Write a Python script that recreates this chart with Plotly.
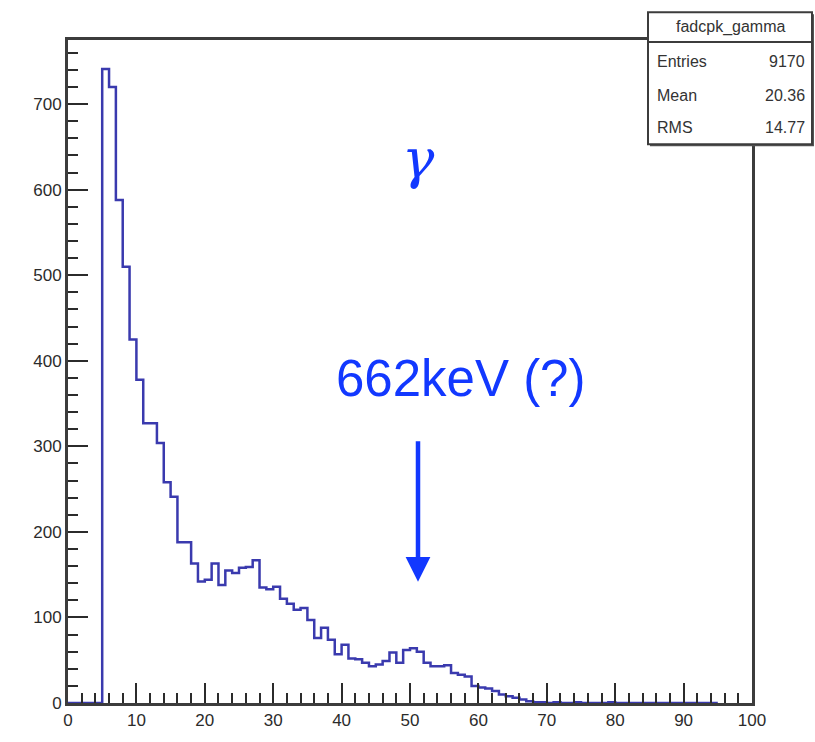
import plotly.graph_objects as go

# ---- data (1-unit bins from 0 to 100) ----
bin_low_edges = list(range(0, 100))
counts = [
    0, 0, 0, 0, 0,
    741, 720, 588, 510, 425, 378, 327, 327, 304, 258,
    241, 188, 188, 163, 142, 144, 163, 138, 155, 152,
    158, 159, 167, 135, 133, 136, 122, 116, 109, 111,
    97, 76, 88, 74, 57, 68, 52, 51, 47, 43,
    45, 49, 59, 47, 62, 64, 60, 47, 43, 43,
    44, 35, 33, 31, 20, 18, 17, 14, 10, 8,
    6, 4, 2, 1, 1, 0, 1, 0, 0, 1,
    0, 0, 0, 0, 1, 0, 0, 0, 0, 0,
    0, 0, 0, 0, 0, 0, 0, 0, 0, 0,
]
x_max = 100
x_ticks = list(range(0, 101, 10))
y_ticks = list(range(0, 701, 100))

stats_title = "fadcpk_gamma"
stats_rows = [("Entries", "9170"), ("Mean", "20.36"), ("RMS", "14.77")]

W, H = 815, 742
L, R, T, B = 68, 752, 40, 707

def px(xp):
    return (xp - L) / (R - L)

def py(yp):
    return (B - yp) / (B - T)

step_x = bin_low_edges + [x_max]
step_y = counts + [counts[-1]]

fig = go.Figure()
fig.add_trace(go.Scatter(
    x=step_x, y=step_y, mode="lines", line_shape="hv", cliponaxis=False,
    line=dict(color="#3a3aae", width=2.5), hoverinfo="skip", showlegend=False,
))

tick_font = dict(family="Liberation Sans, Arial, sans-serif", size=17, color="#2b2b2b")
axis_common = dict(
    showline=True, linecolor="#3c3c3c", linewidth=3, mirror=True,
    showgrid=False, zeroline=False, ticks="inside", tickcolor="#2b2b2b",
    tickwidth=2, ticklen=20, tickfont=tick_font,
)
fig.update_xaxes(range=[0, x_max], tickvals=x_ticks,
                 minor=dict(dtick=2, ticks="inside", ticklen=10, tickwidth=2, tickcolor="#2b2b2b"),
                 **axis_common)
fig.update_yaxes(range=[0, 775], tickvals=y_ticks,
                 minor=dict(dtick=20, ticks="inside", ticklen=10, tickwidth=2, tickcolor="#2b2b2b"),
                 **axis_common)

blue = "#1238ff"
annotations = [
    dict(xref="paper", yref="paper", x=px(418), y=py(160), text="<i>γ</i>",
         xanchor="center", yanchor="middle",
         showarrow=False, font=dict(family="DejaVu Serif, serif", size=54, color=blue)),
    dict(xref="paper", yref="paper", x=px(460), y=py(381), text="662keV (?)",
         xanchor="center", yanchor="middle",
         showarrow=False, font=dict(family="Liberation Sans, Arial, sans-serif", size=51, color=blue)),
    dict(xref="paper", yref="paper", x=px(418), y=py(585), text="", showarrow=True,
         ax=0, ay=-142, arrowhead=2, arrowsize=1.1, arrowwidth=4.5, arrowcolor=blue, standoff=0),
]

# stats box
bx0, bx1, by0, by1, bdiv = 648, 812, 12, 145, 42
shapes = [
    dict(type="rect", xref="paper", yref="paper", x0=px(bx0 + 2), x1=px(bx1 + 2), y0=py(by1 + 2), y1=py(by0 + 2),
         fillcolor="#555555", line=dict(width=0), layer="above"),
    dict(type="rect", xref="paper", yref="paper", x0=px(bx0), x1=px(bx1), y0=py(by1), y1=py(by0),
         fillcolor="white", line=dict(color="#3c3c3c", width=2), layer="above"),
    dict(type="line", xref="paper", yref="paper", x0=px(bx0), x1=px(bx1), y0=py(bdiv), y1=py(bdiv),
         line=dict(color="#3c3c3c", width=2), layer="above"),
]
stat_font = dict(family="Liberation Sans Narrow, Liberation Sans, Arial, sans-serif", size=16, color="#333333")
annotations.append(dict(xref="paper", yref="paper", x=px((bx0 + bx1) / 2), y=py(27), text=stats_title,
                        xanchor="center", yanchor="middle", showarrow=False, font=stat_font))
row_y = [62, 96, 128]
for (lab, val), yy in zip(stats_rows, row_y):
    annotations.append(dict(xref="paper", yref="paper", x=px(655), y=py(yy), text=lab,
                            xanchor="left", yanchor="middle", showarrow=False, font=stat_font))
    annotations.append(dict(xref="paper", yref="paper", x=px(807), y=py(yy), text=val,
                            xanchor="right", yanchor="middle", showarrow=False, font=stat_font))

fig.update_layout(
    width=W, height=H, margin=dict(l=L, r=W - R, t=T, b=H - B),
    plot_bgcolor="white", paper_bgcolor="white",
    annotations=annotations, shapes=shapes, showlegend=False,
)
fig.write_html("out.html")
